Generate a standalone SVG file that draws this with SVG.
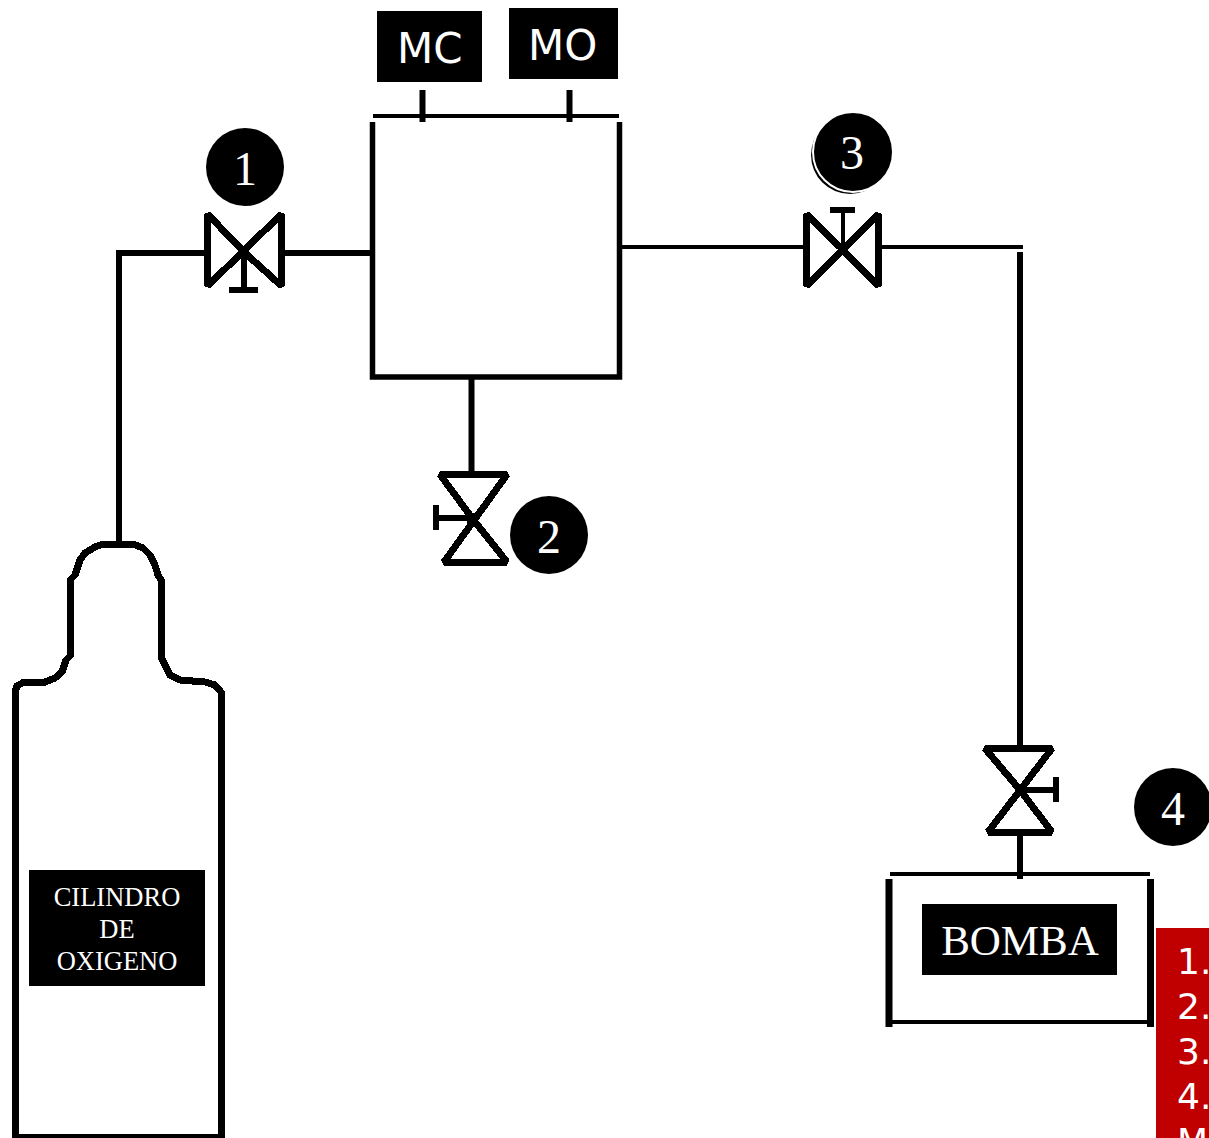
<svg xmlns="http://www.w3.org/2000/svg" width="1209" height="1138" viewBox="0 0 1209 1138">
<style>
.l{fill:none;stroke:#000;stroke-width:6}
.m{fill:none;stroke:#000;stroke-width:4}
.t{fill:none;stroke:#000;stroke-width:5.500}
.w{fill:none;stroke:#000;stroke-width:7}
.v{fill:none;stroke:#000;stroke-width:7;stroke-linejoin:bevel;shape-rendering:crispEdges}
.h{fill:none;stroke:#000;stroke-width:6;shape-rendering:crispEdges}
.c{fill:none;stroke:#000;stroke-width:7;shape-rendering:crispEdges}
.s{font-family:"Liberation Serif","Times New Roman",serif;fill:#fff;text-anchor:middle}
.d{font-family:"DejaVu Sans",Verdana,sans-serif;fill:#fff}
</style>
<rect width="1209" height="1138" fill="#fff"/>
<g id="connectors">
<path class="l" d="M119 542V253H207"/>
<path class="l" d="M283 253H372"/>
<path class="m" d="M622 247H805"/>
<path class="m" d="M881 247H1023"/>
<path class="l" d="M1020 252V747"/>
<path class="l" d="M1020 834V879"/>
<path class="l" d="M471.500 377V473"/>
<path class="l" d="M422.500 90V122"/>
<path class="l" d="M569.500 90V122"/>
</g>
<g id="tank">
<path class="m" d="M373 116H619"/>
<path class="t" d="M372.500 122V377H619.500V122"/>
</g>
<g id="mc"><rect x="377" y="11" width="105" height="71"/><text class="d" x="397" y="63" font-size="42">MC</text></g>
<g id="mo"><rect x="509" y="8" width="109" height="71"/><text class="d" x="528" y="60" font-size="42">MO</text></g>
<g id="valve-1">
<path class="v" d="M207.500 214V286L281.500 214V286L244 252Z"/>
<rect x="239" y="247" width="10" height="10"/>
<path class="h" d="M244 251V290M229 290H258"/>
</g>
<g id="label-1"><circle cx="245" cy="167" r="39"/><text class="s" x="245" y="185" font-size="48">1</text></g>
<g id="valve-3">
<path class="v" d="M806.500 214V286L878.500 214V286L843 250Z"/>
<rect x="838" y="245" width="10" height="10"/>
<path class="m" d="M843 250V209"/>
<path class="h" d="M830 209.500H855"/>
</g>
<g id="label-3"><circle cx="850" cy="155" r="39"/><circle cx="853" cy="152" r="40" fill="#000" stroke="#fff" stroke-width="2"/><text class="s" x="852" y="169" font-size="48">3</text></g>
<g id="valve-2">
<path class="v" d="M440 474.500H507L444 562H507L472 518Z"/>
<rect x="467" y="513" width="10" height="10"/>
<path class="h" d="M436 518H472M436 505V530"/>
</g>
<g id="label-2"><circle cx="549" cy="535" r="39"/><text class="s" x="549" y="553" font-size="48">2</text></g>
<g id="valve-4">
<path class="v" d="M985 748.500H1052L988 832H1052L1020 790Z"/>
<rect x="1015" y="785" width="10" height="10"/>
<path class="h" d="M1020 790H1056M1056 777V802"/>
</g>
<g id="label-4"><circle cx="1173" cy="807" r="39"/><text class="s" x="1173" y="825" font-size="48">4</text></g>
<g id="pump">
<path class="m" d="M890 874H1150M890 1022H1150"/>
<path class="w" d="M889 879V1027M1150.500 879V1027"/>
<rect x="922" y="904" width="195" height="71"/>
<text class="s" x="1020" y="955" font-size="43">BOMBA</text>
</g>
<g id="cylinder">
<path class="c" d="M15 1138V692L17 686L24 682H45L55 678L62 672L66 660L70 656V580L75 575L80 560L85 553L95 547L103 544H133L143 548L150 555L155 565L158 575L161 580V657L165 665L170 675L180 680L205 682L215 685L221 692V1138"/>
<path class="m" d="M15 1136H221"/>
<rect x="29" y="870" width="176" height="116"/>
<text class="s" font-size="26.500"><tspan x="117" y="906">CILINDRO</tspan><tspan x="117" y="938">DE</tspan><tspan x="117" y="970">OXIGENO</tspan></text>
</g>
<g id="legend">
<rect x="1156" y="928" width="53" height="210" fill="#c00000"/>
<text class="d" font-size="36"><tspan x="1177" y="974">1.</tspan><tspan x="1177" y="1019">2.</tspan><tspan x="1177" y="1064">3.</tspan><tspan x="1177" y="1109">4.</tspan><tspan x="1177" y="1154">M</tspan></text>
</g>
</svg>
